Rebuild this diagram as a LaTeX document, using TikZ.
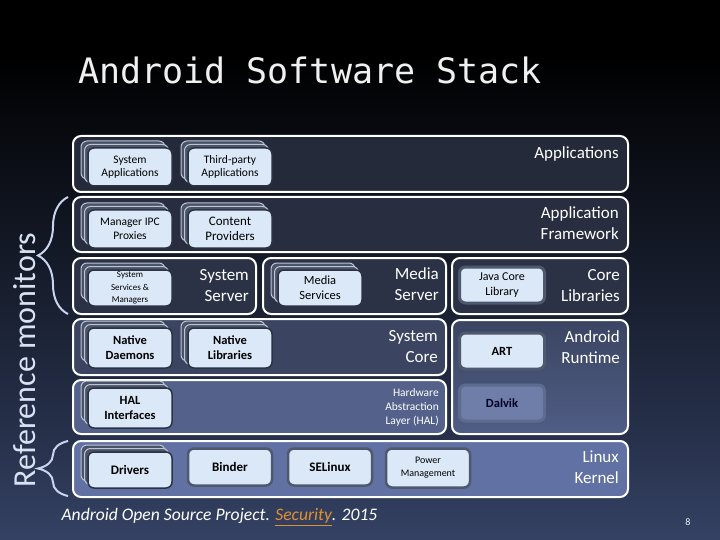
\documentclass[tikz,border=0pt]{standalone}
\usepackage{fontspec}
\setmainfont{Carlito}
\newfontfamily\titlefont{DejaVu Sans Mono}
\usetikzlibrary{positioning,shadows,decorations.pathreplacing}

\definecolor{bgbot}{HTML}{5B6FA4}
\definecolor{bgmid}{HTML}{26304A}
\definecolor{appfill}{HTML}{252A3A}
\definecolor{fwfill}{HTML}{282D3F}
\definecolor{srvfill}{HTML}{2C3246}
\definecolor{corefill}{HTML}{3B4562}
\definecolor{halfill}{HTML}{53618B}
\definecolor{kernfill}{HTML}{6171A3}
\definecolor{compfill}{HTML}{DBE8F7}
\definecolor{compline}{HTML}{2B3243}
\definecolor{stackfill}{HTML}{4A5368}
\definecolor{stackline}{HTML}{BCC4D4}
\definecolor{thickline}{HTML}{4E586E}
\definecolor{dalvikfill}{HTML}{6E7EA8}
\definecolor{bracecol}{HTML}{C8D5EE}
\definecolor{linkcol}{HTML}{E0912F}

\pgfdeclareverticalshading{slidebg}{100bp}{color(0bp)=(bgbot); color(35bp)=(bgmid); color(70bp)=(black); color(100bp)=(black)}

\tikzset{
  layer/.style={draw=white, line width=2pt, rounded corners=8pt, anchor=north west, inner sep=0pt},
  layertext/.style={text=white, align=right, anchor=north east, inner sep=0pt, font=\fontsize{17}{21}\selectfont},
  comp/.style={draw=compline, fill=compfill, line width=1.5pt, rounded corners=6pt,
    minimum width=84pt, minimum height=38pt, align=center, inner sep=1pt,
    font=\fontsize{11.5}{13.5}\selectfont, text=black},
  stackbox/.style={comp, double copy shadow={shadow xshift=-3.5pt, shadow yshift=3.5pt,
    fill=stackfill, draw=stackline, line width=1pt}},
  thickbox/.style={comp, draw=thickline, line width=3pt, minimum width=85pt, minimum height=36pt},
  refbrace/.style={draw=bracecol, line width=2pt, decorate, decoration={brace, amplitude=30pt}}
}

\begin{document}
\begin{tikzpicture}[x=1pt,y=-1pt]
\useasboundingbox (0,0) rectangle (720,540);
\shade[shading=slidebg] (0,0) rectangle (720,540);

\node[text=white!88!gray, font=\titlefont\fontsize{35}{40}\selectfont] (title) at (310,70) {Android Software Stack};

% layers
\node[layer, fill=appfill, minimum width=555pt, minimum height=56pt] (app) at (72,135) {};
\node[layer, fill=fwfill, minimum width=555pt, minimum height=55pt] (fw) at (72,196) {};
\node[layer, fill=srvfill, minimum width=183pt, minimum height=56pt] (ss) at (72,257) {};
\node[layer, fill=srvfill, minimum width=183pt, minimum height=56pt] (ms) at (262,257) {};
\node[layer, fill=srvfill, minimum width=176pt, minimum height=56pt] (cl) at (451,257) {};
\node[layer, fill=corefill, minimum width=373pt, minimum height=56pt] (sc) at (72,318) {};
\node[layer, top color=corefill, bottom color=halfill!85!corefill, minimum width=176pt, minimum height=114pt] (rt) at (451,319) {};
\node[layer, fill=halfill, minimum width=373pt, minimum height=54pt] (hal) at (72,379) {};
\node[layer, fill=kernfill, minimum width=555pt, minimum height=56pt] (kern) at (72,440) {};

\node[layertext] (applbl) at ([xshift=-10pt,yshift=-11pt]app.north east) {Applications};
\node[layertext] (fwlbl) at ([xshift=-10pt,yshift=-10pt]fw.north east) {Application\\Framework};
\node[layertext] (sslbl) at ([xshift=-8pt,yshift=-12pt]ss.north east) {System\\Server};
\node[layertext] (mslbl) at ([xshift=-8pt,yshift=-10pt]ms.north east) {Media\\Server};
\node[layertext] (cllbl) at ([xshift=-9pt,yshift=-12pt]cl.north east) {Core\\Libraries};
\node[layertext] (sclbl) at ([xshift=-9pt,yshift=-12pt]sc.north east) {System\\Core};
\node[layertext] (rtlbl) at ([xshift=-9pt,yshift=-11pt]rt.north east) {Android\\Runtime};
\node[layertext, font=\fontsize{11.5}{14}\selectfont] (hallbl) at ([xshift=-8pt,yshift=-9pt]hal.north east) {Hardware\\Abstraction\\Layer (HAL)};
\node[layertext] (kernlbl) at ([xshift=-10pt,yshift=-11pt]kern.north east) {Linux\\Kernel};

% components
\node[stackbox] (sysapp) at (130,167) {System\\Applications};
\node[stackbox] (thirdapp) at (230,167) {Third-party\\Applications};
\node[stackbox] (ipc) at (130,229) {Manager IPC\\Proxies};
\node[stackbox, font=\fontsize{13}{15}\selectfont] (cprov) at (230,229) {Content\\Providers};
\node[stackbox, minimum height=36pt, font=\fontsize{9}{12.5}\selectfont] (ssm) at (130,288) {System\\Services \&\\Managers};
\node[stackbox, minimum height=36pt, font=\fontsize{12.5}{15}\selectfont] (medsvc) at (320,288) {Media\\Services};
\node[thickbox, font=\fontsize{12}{14.5}\selectfont] (jcl) at (502,285) {Java Core\\Library};
\node[stackbox, minimum height=40pt, font=\bfseries\fontsize{12.5}{15}\selectfont] (nd) at (130,348) {Native\\Daemons};
\node[stackbox, minimum height=40pt, font=\bfseries\fontsize{12.5}{15}\selectfont] (nl) at (230,348) {Native\\Libraries};
\node[thickbox, font=\bfseries\fontsize{12.5}{15}\selectfont] (art) at (502,351) {ART};
\node[stackbox, minimum height=40pt, font=\bfseries\fontsize{12.5}{15}\selectfont] (hali) at (130,408) {HAL\\Interfaces};
\node[thickbox, fill=dalvikfill, draw=dalvikfill!85!black, text=black!85!blue, font=\bfseries\fontsize{12.5}{15}\selectfont] (dalvik) at (502,403) {Dalvik};
\node[stackbox, minimum height=36pt, font=\bfseries\fontsize{13}{15}\selectfont] (drv) at (130,470) {Drivers};
\node[comp, draw=thickline, line width=2.5pt, minimum height=37pt, font=\bfseries\fontsize{13}{15}\selectfont] (binder) at (230,467) {Binder};
\node[comp, draw=thickline, line width=2.5pt, minimum height=37pt, font=\bfseries\fontsize{13}{15}\selectfont] (selinux) at (330,467) {SELinux};
\node[comp, draw=thickline, line width=2.5pt, minimum height=39pt, font=\fontsize{10}{13}\selectfont] (pm) at (428,468) {Power\\Management};

% reference monitors
\coordinate (b1top) at ([xshift=-4pt,yshift=-1pt]fw.north west);
\coordinate (b1bot) at ([xshift=-4pt,yshift=1pt]ss.south west);
\coordinate (b2top) at ([xshift=-4pt,yshift=-1pt]kern.north west);
\coordinate (b2bot) at ([xshift=-4pt,yshift=2pt]kern.south west);
\draw[refbrace] (b1bot) -- (b1top);
\draw[refbrace] (b2bot) -- (b2top);
\node[rotate=90, anchor=base, inner sep=0pt, text=bracecol!70!white, font=\fontsize{32}{36}\selectfont] (refmon) at (35,360) {Reference monitors};

\node[anchor=west, text=white, font=\itshape\fontsize{17.6}{20}\selectfont] (src) at (58,517) {Android Open Source Project. \textcolor{linkcol}{\underline{Security}}. 2015};
\node[text=white!90!gray, font=\fontsize{10}{12}\selectfont] (pgnum) at (688,522) {8};
\end{tikzpicture}
\end{document}
